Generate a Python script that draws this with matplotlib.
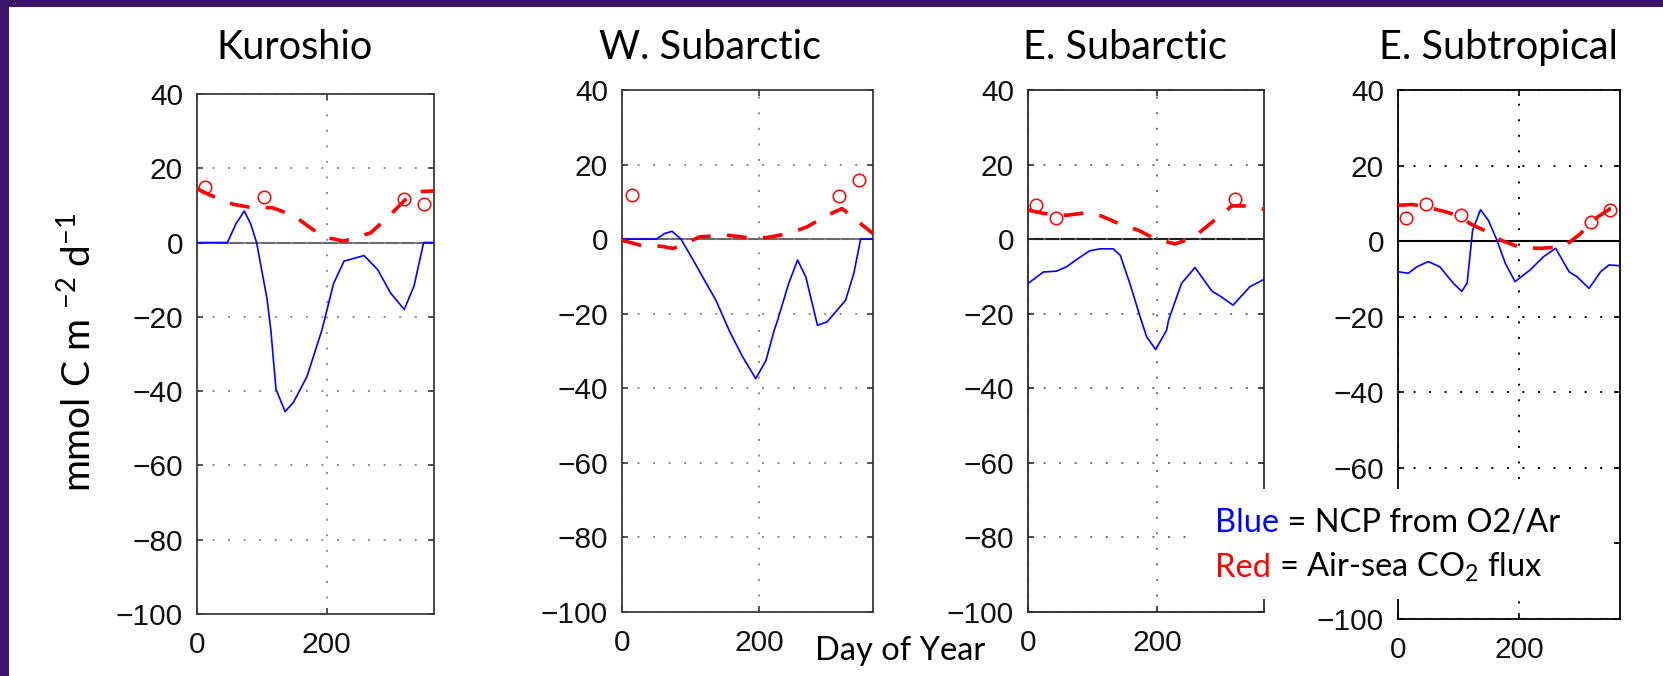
import matplotlib.pyplot as plt
import matplotlib.patches as mpatches

plt.rcParams['mathtext.fontset'] = 'custom'
plt.rcParams['mathtext.rm'] = 'Lato'
plt.rcParams['mathtext.it'] = 'Lato:italic'

W, H = 1663, 676

# ---- data (day of year, mmol C m-2 d-1) ----
regions = ['Kuroshio', 'W. Subarctic', 'E. Subarctic', 'E. Subtropical']

kuro_blue_day = [0, 47, 60, 73, 83, 92, 108, 114, 122, 136, 149, 170, 193, 198, 211, 227, 258, 279, 299, 320, 335, 350, 366]
kuro_blue_val = [0, 0, 5, 8.5, 5, 0, -15, -23.5, -39.5, -45.5, -43, -36, -23.5, -20, -11, -5, -3.5, -7.3, -13.6, -18, -11.8, 0, 0]
kuro_red_day = [0, 20, 56, 85, 116, 149, 175, 196, 227, 268, 294, 322, 341, 366]
kuro_red_val = [14.5, 12.8, 10.3, 9.4, 9.4, 7.3, 4, 1.5, 0.4, 2.6, 6.7, 11.6, 13.7, 13.9]
kuro_circ_day = [12, 104, 320, 350]
kuro_circ_val = [15, 12.3, 11.6, 10.3]

wsub_blue_day = [0, 50, 62, 73, 86, 105, 123, 137, 157, 176, 195, 210, 222, 227, 243, 256, 268, 285, 299, 326, 338, 348, 366]
wsub_blue_val = [0, 0, 1.5, 2.1, 0, -6, -11.9, -16.4, -24.8, -31.6, -37.4, -32.5, -24.4, -21.7, -11.9, -5.6, -10.1, -23.1, -22.2, -16.4, -9.2, 0, 0]
wsub_red_day = [0, 26, 57, 74, 84, 113, 152, 183, 210, 243, 270, 299, 321, 345, 366]
wsub_red_val = [-0.3, -1.6, -1.9, -2.5, -1.9, 0.6, 1.1, 0.4, 0.4, 1.5, 3.3, 6.4, 8.2, 4.6, 1.5]
wsub_circ_day = [15, 316, 346]
wsub_circ_val = [11.8, 11.5, 15.8]

esub_blue_day = [0, 24, 44, 60, 75, 96, 112, 132, 143, 158, 174, 184, 198, 215, 218, 238, 259, 285, 300, 318, 344, 366]
esub_blue_val = [-11.9, -8.8, -8.6, -7.4, -5.5, -3.1, -2.6, -2.6, -4.3, -11.9, -20.9, -26.2, -29.6, -24.4, -21.7, -11.9, -7.6, -13.9, -15.5, -17.7, -12.8, -10.8]
esub_red_day = [0, 24, 60, 91, 114, 143, 171, 197, 228, 256, 293, 316, 344, 366]
esub_red_val = [7.8, 6.9, 6.4, 7.1, 6.2, 4, 2.4, 0.1, -1.3, 0.4, 5.6, 8.9, 8.9, 8]
esub_circ_day = [12, 44, 321]
esub_circ_val = [9.1, 5.6, 10.7]

estr_blue_day = [0, 17, 31, 50, 69, 91, 105, 114, 123, 136, 149, 163, 177, 193, 218, 240, 260, 282, 295, 315, 334, 348, 366]
estr_blue_val = [-8.1, -8.5, -6.8, -5.4, -6.8, -11.1, -13.3, -11.1, 2.9, 8.3, 5.5, 0.3, -5.9, -10.7, -7.6, -4.1, -1.9, -8.1, -9.4, -12.5, -8.1, -6.3, -6.5]
estr_red_day = [0, 24, 58, 80, 102, 119, 147, 169, 202, 235, 273, 301, 317, 350, 366]
estr_red_val = [9.5, 9.7, 8.6, 7.7, 6.6, 4.6, 2.5, 0.3, -1.7, -1.9, -1.5, 2, 5.1, 8.6, 9]
estr_circ_day = [14, 46, 104, 318, 349]
estr_circ_val = [6, 9.7, 7, 5.1, 8.3]

blue_days = [kuro_blue_day, wsub_blue_day, esub_blue_day, estr_blue_day]
blue_vals = [kuro_blue_val, wsub_blue_val, esub_blue_val, estr_blue_val]
red_days = [kuro_red_day, wsub_red_day, esub_red_day, estr_red_day]
red_vals = [kuro_red_val, wsub_red_val, esub_red_val, estr_red_val]
circ_days = [kuro_circ_day, wsub_circ_day, esub_circ_day, estr_circ_day]
circ_vals = [kuro_circ_val, wsub_circ_val, esub_circ_val, estr_circ_val]

yticks = [-100, -80, -60, -40, -20, 0, 20, 40]
xticks = [0, 200]

# ---- layout (pixel boxes: left, right, top, bottom) ----
boxes = [(197, 434, 94, 614), (622, 873, 90, 612), (1028, 1264, 90, 612), (1398, 1620, 90, 619)]
title_x = [294, 710, 1125, 1498]
frame_col = ['#3a3a3a', '#3a3a3a', '#2a2a2a', '#000000']
grid_col = ['#8a8a8a', '#8a8a8a', '#707070', '#000000']
zero_col = ['#6a6a6a', '#6a6a6a', '#222222', '#000000']

fig = plt.figure(figsize=(W / 100, H / 100), dpi=100, facecolor='#3a1466')
# white slide area (purple strip at top and left)
fig.patches.append(mpatches.Rectangle((9 / W, 0), 1, 1 - 7 / H, transform=fig.transFigure,
                                      facecolor='white', edgecolor='none', zorder=-10))

for i, (l, r, t, b) in enumerate(boxes):
    ax = fig.add_axes([l / W, 1 - b / H, (r - l) / W, (b - t) / H])
    ax.set_facecolor('white')
    ax.axhline(0, color=zero_col[i], lw=1.5, zorder=1)
    ax.plot(blue_days[i], blue_vals[i], color='#0000ff', lw=1.2, zorder=3)
    ax.plot(red_days[i], red_vals[i], color='#ff0000', lw=2.6, dashes=(5.5, 4.5), zorder=4)
    ax.plot(circ_days[i], circ_vals[i], 'o', mfc='none', mec='#ff0000', ms=9, mew=1.1, zorder=5)
    ax.set_xlim(0, 366)
    ax.set_ylim(-100, 40)
    ax.set_xticks(xticks)
    ax.set_yticks(yticks)
    labels = [str(v).replace('-', '\u2212') for v in yticks]
    if i == 3:
        labels[1] = ''  # hidden behind the colour key in the reference
    ax.set_yticklabels(labels)
    ax.grid(True, color=grid_col[i], linestyle=(0, (1, 7)), lw=1.4, zorder=0)
    ax.tick_params(direction='in', top=True, right=True, length=4, width=1.2,
                   color=frame_col[i], labelsize=21.5, labelcolor='#111111')
    ax.tick_params(axis='x', pad=12)
    ax.tick_params(axis='y', pad=10)
    for lab in ax.get_xticklabels() + ax.get_yticklabels():
        lab.set_fontfamily('Liberation Sans')
    for sp in ax.spines.values():
        sp.set_color(frame_col[i])
        sp.set_linewidth(1.3)
    fig.text(title_x[i] / W, 1 - 59 / H, regions[i], ha='center', va='baseline',
             fontsize=28.5, family='Lato', color='black')

fig.text(78 / W, 1 - 352 / H, r'mmol C m $^{-2}$ d$^{-1}$', rotation=90, ha='center', va='center',
         fontsize=28, family='Lato', color='black')
fig.text(815 / W, 1 - 660 / H, 'Day of Year', ha='left', va='baseline', fontsize=23.5, family='Lato')

# colour key in a white box covering part of the last two panels
fig.patches.append(mpatches.Rectangle((1187 / W, 1 - 599 / H), (1610 - 1187) / W, 110 / H,
                                      transform=fig.transFigure, facecolor='white',
                                      edgecolor='none', zorder=10))
fig.canvas.draw()
rend = fig.canvas.get_renderer()
key_lines = [(532, 'Blue', '#0000ff', ' = NCP from O2/Ar'),
             (577, 'Red', '#ff0000', r' = Air-sea CO$_\mathrm{2}$ flux')]
for base, word, col, rest in key_lines:
    t1 = fig.text(1215 / W, 1 - base / H, word, color=col, ha='left', va='baseline',
                  fontsize=23.5, family='Lato', zorder=11)
    x1 = t1.get_window_extent(rend).x1
    fig.text(x1 / W, 1 - base / H, rest, color='black', ha='left', va='baseline',
             fontsize=23.5, family='Lato', zorder=11)

fig.savefig('out.png', dpi=100, facecolor=fig.get_facecolor())
